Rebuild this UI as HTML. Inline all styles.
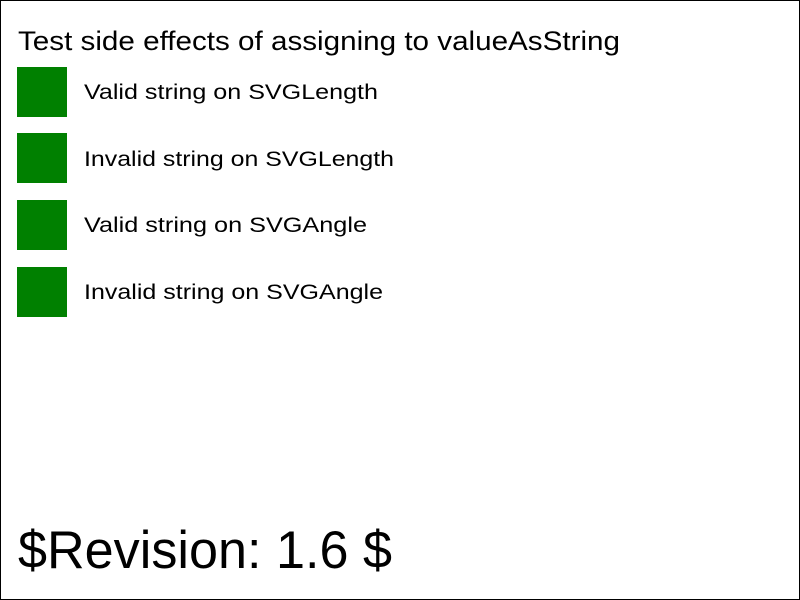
<!DOCTYPE html>
<html><head><meta charset="utf-8"><style>
html,body{margin:0;padding:0;background:#fff;}
svg{display:block;}
text{font-family:"Liberation Sans",Arial,sans-serif;fill:#000;}
</style></head><body>
<svg width="800" height="600" viewBox="0 0 800 600" xmlns="http://www.w3.org/2000/svg">
<rect x="0.5" y="0.5" width="799" height="599" fill="#fff" stroke="#000" stroke-width="1"/>
<text x="18" y="50" font-size="26.5" textLength="602" lengthAdjust="spacingAndGlyphs">Test side effects of assigning to valueAsString</text>
<rect x="17" y="67" width="50" height="50" fill="#008000"/>
<rect x="17" y="133" width="50" height="50" fill="#008000"/>
<rect x="17" y="200" width="50" height="50" fill="#008000"/>
<rect x="17" y="267" width="50" height="50" fill="#008000"/>
<text x="84" y="99" font-size="21.5" textLength="294" lengthAdjust="spacingAndGlyphs">Valid string on SVGLength</text>
<text x="84" y="166" font-size="21.5" textLength="310" lengthAdjust="spacingAndGlyphs">Invalid string on SVGLength</text>
<text x="84" y="232" font-size="21.5" textLength="283" lengthAdjust="spacingAndGlyphs">Valid string on SVGAngle</text>
<text x="84" y="299" font-size="21.5" textLength="299" lengthAdjust="spacingAndGlyphs">Invalid string on SVGAngle</text>
<text x="18" y="568" font-size="53" textLength="374" lengthAdjust="spacingAndGlyphs">$Revision: 1.6 $</text>
</svg>
</body></html>
